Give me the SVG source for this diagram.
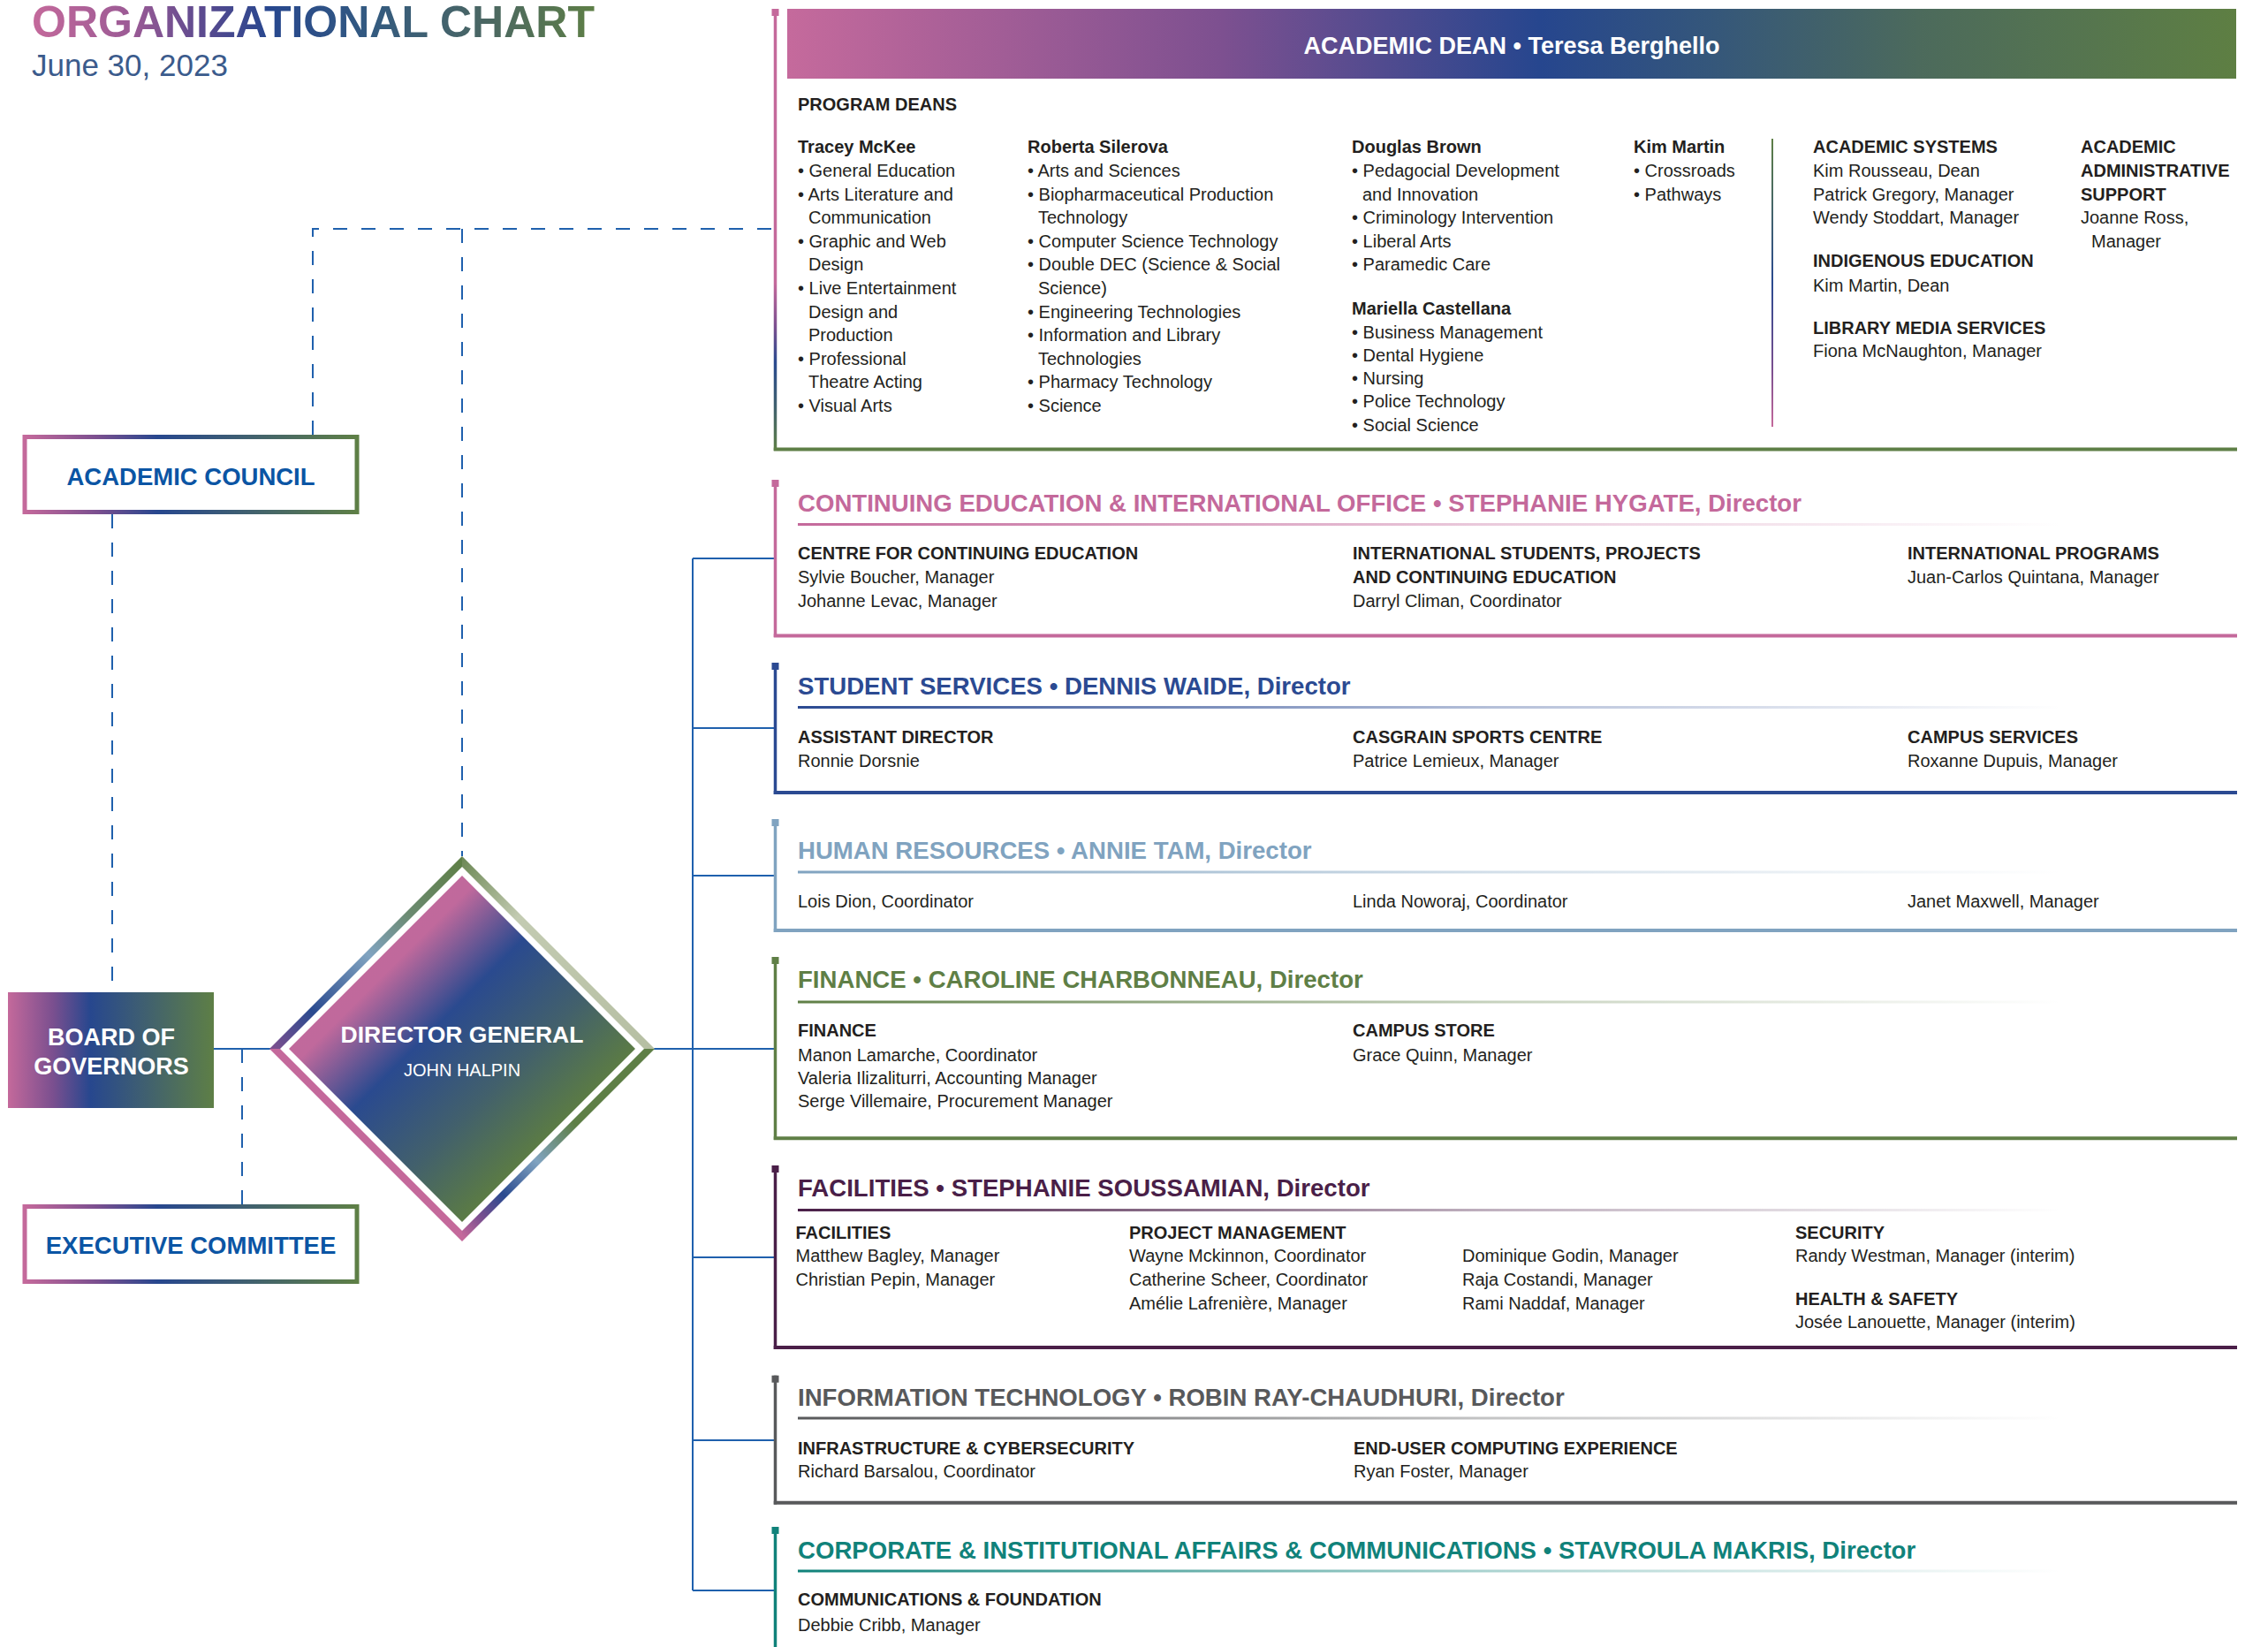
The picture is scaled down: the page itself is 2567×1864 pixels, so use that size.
<svg xmlns="http://www.w3.org/2000/svg" width="2567" height="1864" viewBox="0 0 2567 1864">
<defs>
<linearGradient id="gTitle" gradientUnits="userSpaceOnUse" x1="36" y1="0" x2="675" y2="0">
<stop offset="0" stop-color="#c4699b"/><stop offset="0.18" stop-color="#9a5a95"/><stop offset="0.3" stop-color="#5c4a8f"/><stop offset="0.42" stop-color="#27478e"/><stop offset="0.6" stop-color="#335a80"/><stop offset="0.8" stop-color="#4a6663"/><stop offset="1" stop-color="#5e7f46"/>
</linearGradient>
<linearGradient id="gH" x1="0" y1="0" x2="1" y2="0">
<stop offset="0" stop-color="#c56a9c"/><stop offset="0.3" stop-color="#7d5090"/><stop offset="0.52" stop-color="#26468e"/><stop offset="0.64" stop-color="#35577a"/><stop offset="0.78" stop-color="#4c6a5c"/><stop offset="1" stop-color="#5e7f43"/>
</linearGradient>
<linearGradient id="gBox" x1="0" y1="0" x2="1" y2="0">
<stop offset="0" stop-color="#c4699b"/><stop offset="0.22" stop-color="#7a4f8f"/><stop offset="0.4" stop-color="#27478e"/><stop offset="0.65" stop-color="#3e5e72"/><stop offset="1" stop-color="#5e7f46"/>
</linearGradient>
<linearGradient id="gAdLeft" x1="0" y1="0" x2="0" y2="1">
<stop offset="0" stop-color="#c4699b"/><stop offset="0.62" stop-color="#c4699b"/><stop offset="0.72" stop-color="#7a4f8f"/><stop offset="0.8" stop-color="#2a4a8f"/><stop offset="0.9" stop-color="#40606e"/><stop offset="1" stop-color="#5e7f46"/>
</linearGradient>
<linearGradient id="gSep" x1="0" y1="0" x2="0" y2="1">
<stop offset="0" stop-color="#5e7f46"/><stop offset="0.5" stop-color="#2a4a8f"/><stop offset="0.8" stop-color="#7a4f8f"/><stop offset="1" stop-color="#c4699b"/>
</linearGradient>
<linearGradient id="gDia" x1="0" y1="0" x2="1" y2="1">
<stop offset="0" stop-color="#c4699b"/><stop offset="0.28" stop-color="#c0699c"/><stop offset="0.43" stop-color="#2a4a8f"/><stop offset="0.6" stop-color="#42606c"/><stop offset="0.75" stop-color="#5b7b45"/><stop offset="1" stop-color="#5b7b45"/>
</linearGradient>
<linearGradient id="gEA" gradientUnits="userSpaceOnUse" x1="311" y1="1187" x2="523" y2="975">
<stop offset="0" stop-color="#7a4f8f"/><stop offset="0.2" stop-color="#2a4a8f"/><stop offset="0.5" stop-color="#80a3c0"/><stop offset="0.72" stop-color="#6b8a70"/><stop offset="1" stop-color="#5e7f46"/>
</linearGradient>
<linearGradient id="gEB" gradientUnits="userSpaceOnUse" x1="523" y1="975" x2="735" y2="1187">
<stop offset="0" stop-color="#6f8a58"/><stop offset="0.3" stop-color="#c3cbb2"/><stop offset="1" stop-color="#b6bfa3"/>
</linearGradient>
<linearGradient id="gEC" gradientUnits="userSpaceOnUse" x1="735" y1="1187" x2="523" y2="1399">
<stop offset="0" stop-color="#5e7f46"/><stop offset="0.4" stop-color="#5e7f46"/><stop offset="0.6" stop-color="#80a3c0"/><stop offset="0.78" stop-color="#2a4a8f"/><stop offset="0.9" stop-color="#7a4f8f"/><stop offset="1" stop-color="#c4699b"/>
</linearGradient>
<linearGradient id="uPink" x1="0" y1="0" x2="1" y2="0"><stop offset="0" stop-color="#c4699b"/><stop offset="0.55" stop-color="#c4699b" stop-opacity="0.35"/><stop offset="1" stop-color="#c4699b" stop-opacity="0"/></linearGradient>
<linearGradient id="uBlue" x1="0" y1="0" x2="1" y2="0"><stop offset="0" stop-color="#2b4a92"/><stop offset="0.55" stop-color="#2b4a92" stop-opacity="0.35"/><stop offset="1" stop-color="#2b4a92" stop-opacity="0"/></linearGradient>
<linearGradient id="uHr" x1="0" y1="0" x2="1" y2="0"><stop offset="0" stop-color="#80a3c0"/><stop offset="0.55" stop-color="#80a3c0" stop-opacity="0.35"/><stop offset="1" stop-color="#80a3c0" stop-opacity="0"/></linearGradient>
<linearGradient id="uFin" x1="0" y1="0" x2="1" y2="0"><stop offset="0" stop-color="#5f7f46"/><stop offset="0.55" stop-color="#5f7f46" stop-opacity="0.35"/><stop offset="1" stop-color="#5f7f46" stop-opacity="0"/></linearGradient>
<linearGradient id="uFac" x1="0" y1="0" x2="1" y2="0"><stop offset="0" stop-color="#4a1f48"/><stop offset="0.55" stop-color="#4a1f48" stop-opacity="0.35"/><stop offset="1" stop-color="#4a1f48" stop-opacity="0"/></linearGradient>
<linearGradient id="uIt" x1="0" y1="0" x2="1" y2="0"><stop offset="0" stop-color="#58595b"/><stop offset="0.55" stop-color="#58595b" stop-opacity="0.35"/><stop offset="1" stop-color="#58595b" stop-opacity="0"/></linearGradient>
<linearGradient id="uCorp" x1="0" y1="0" x2="1" y2="0"><stop offset="0" stop-color="#10827a"/><stop offset="0.55" stop-color="#10827a" stop-opacity="0.35"/><stop offset="1" stop-color="#10827a" stop-opacity="0"/></linearGradient>
</defs>
<style>
text{font-family:"Liberation Sans",Arial,sans-serif}
.b{font-size:20px;font-weight:700;fill:#231f20}
.t{font-size:20px;fill:#231f20}
.h{font-size:27.6px;font-weight:700}
.conn{fill:none;stroke:#1f60ad;stroke-width:2}
.dash{stroke-dasharray:16 16}
.boxt{font-size:27.5px;font-weight:700;fill:#0b55a4;text-anchor:middle}
.wt{fill:#ffffff;text-anchor:middle}
</style>
<rect x="0" y="0" width="2567" height="1864" fill="#ffffff"/>

<g id="title">
<text x="36" y="42" font-size="50" font-weight="700" fill="url(#gTitle)">ORGANIZATIONAL CHART</text>
<text x="36" y="86" font-size="35" fill="#3b5b8c">June 30, 2023</text>
</g>

<g id="connectors">
<polyline class="conn dash" points="354,492 354,259 877,259"/>
<line class="conn dash" x1="523" y1="259" x2="523" y2="969"/>
<line class="conn dash" x1="127" y1="582" x2="127" y2="1123"/>
<line class="conn dash" x1="274" y1="1187" x2="274" y2="1363"/>
<line class="conn" x1="242" y1="1187" x2="306" y2="1187"/>
<line class="conn" x1="740" y1="1187" x2="784" y2="1187"/>
<line class="conn" x1="784" y1="632" x2="784" y2="1800"/>
<line class="conn" x1="784" y1="632" x2="877" y2="632"/>
<line class="conn" x1="784" y1="824" x2="877" y2="824"/>
<line class="conn" x1="784" y1="991" x2="877" y2="991"/>
<line class="conn" x1="784" y1="1187" x2="877" y2="1187"/>
<line class="conn" x1="784" y1="1423" x2="877" y2="1423"/>
<line class="conn" x1="784" y1="1630" x2="877" y2="1630"/>
<line class="conn" x1="784" y1="1800" x2="877" y2="1800"/>
</g>

<g id="academic-council">
<rect x="28" y="494.5" width="376" height="85" fill="#ffffff" stroke="url(#gBox)" stroke-width="5"/>
<text class="boxt" x="216" y="549">ACADEMIC COUNCIL</text>
</g>

<g id="board-of-governors">
<rect x="9" y="1123" width="233" height="131" fill="url(#gBox)"/>
<text class="wt" x="126" y="1183" font-size="27" font-weight="700">BOARD OF</text>
<text class="wt" x="126" y="1216" font-size="27" font-weight="700">GOVERNORS</text>
</g>

<g id="executive-committee">
<rect x="28" y="1365.5" width="376" height="85" fill="#ffffff" stroke="url(#gBox)" stroke-width="5"/>
<text class="boxt" x="216" y="1419">EXECUTIVE COMMITTEE</text>
</g>

<g id="director-general">
<polygon points="305,1187 523,969 523,981 317,1187" fill="url(#gEA)"/>
<polygon points="523,969 741,1187 729,1187 523,981" fill="url(#gEB)"/>
<polygon points="741,1187 523,1405 523,1393 729,1187" fill="url(#gEC)"/>
<polygon points="523,1405 305,1187 317,1187 523,1393" fill="#c4699b"/>
<polygon points="327,1187 523,991 719,1187 523,1383" fill="url(#gDia)"/>
<text class="wt" x="523" y="1180" font-size="26.5" font-weight="700">DIRECTOR GENERAL</text>
<text class="wt" x="523" y="1218" font-size="20">JOHN HALPIN</text>
</g>

<g id="academic-dean">
<rect x="873.5" y="10" width="8" height="8" fill="#c4699b"/>
<rect x="875.75" y="10" width="3.5" height="500" fill="url(#gAdLeft)"/>
<line x1="875.75" y1="508.5" x2="2532" y2="508.5" stroke="#5e7f46" stroke-width="4"/>
<rect x="891" y="10" width="1640" height="79" fill="url(#gH)"/>
<text x="1711" y="61" font-size="27" font-weight="700" fill="#ffffff" text-anchor="middle">ACADEMIC DEAN • Teresa Berghello</text>
<text class="b" x="903" y="125">PROGRAM DEANS</text>
<g id="col-mckee">
<text class="b" x="903" y="173.3">Tracey McKee</text>
<text class="t" x="903" y="199.9">• General Education</text>
<text class="t" x="903" y="226.5">• Arts Literature and</text>
<text class="t" x="915" y="253.1">Communication</text>
<text class="t" x="903" y="279.7">• Graphic and Web</text>
<text class="t" x="915" y="306.3">Design</text>
<text class="t" x="903" y="332.9">• Live Entertainment</text>
<text class="t" x="915" y="359.5">Design and</text>
<text class="t" x="915" y="386.1">Production</text>
<text class="t" x="903" y="412.7">• Professional</text>
<text class="t" x="915" y="439.3">Theatre Acting</text>
<text class="t" x="903" y="465.9">• Visual Arts</text>
</g>
<g id="col-silerova">
<text class="b" x="1163" y="173.3">Roberta Silerova</text>
<text class="t" x="1163" y="199.9">• Arts and Sciences</text>
<text class="t" x="1163" y="226.5">• Biopharmaceutical Production</text>
<text class="t" x="1175" y="253.1">Technology</text>
<text class="t" x="1163" y="279.7">• Computer Science Technology</text>
<text class="t" x="1163" y="306.3">• Double DEC (Science &amp; Social</text>
<text class="t" x="1175" y="332.9">Science)</text>
<text class="t" x="1163" y="359.5">• Engineering Technologies</text>
<text class="t" x="1163" y="386.1">• Information and Library</text>
<text class="t" x="1175" y="412.7">Technologies</text>
<text class="t" x="1163" y="439.3">• Pharmacy Technology</text>
<text class="t" x="1163" y="465.9">• Science</text>
</g>
<g id="col-brown">
<text class="b" x="1530" y="173.3">Douglas Brown</text>
<text class="t" x="1530" y="199.9">• Pedagocial Development</text>
<text class="t" x="1542" y="226.5">and Innovation</text>
<text class="t" x="1530" y="253.1">• Criminology Intervention</text>
<text class="t" x="1530" y="279.7">• Liberal Arts</text>
<text class="t" x="1530" y="306.3">• Paramedic Care</text>
<text class="b" x="1530" y="356">Mariella Castellana</text>
<text class="t" x="1530" y="382.5">• Business Management</text>
<text class="t" x="1530" y="408.8">• Dental Hygiene</text>
<text class="t" x="1530" y="435">• Nursing</text>
<text class="t" x="1530" y="461.3">• Police Technology</text>
<text class="t" x="1530" y="487.5">• Social Science</text>
</g>
<g id="col-martin">
<text class="b" x="1849" y="173.3">Kim Martin</text>
<text class="t" x="1849" y="199.9">• Crossroads</text>
<text class="t" x="1849" y="226.5">• Pathways</text>
</g>
<rect x="2005" y="157" width="2" height="326" fill="url(#gSep)"/>
<g id="col-systems">
<text class="b" x="2052" y="173.3">ACADEMIC SYSTEMS</text>
<text class="t" x="2052" y="199.9">Kim Rousseau, Dean</text>
<text class="t" x="2052" y="226.5">Patrick Gregory, Manager</text>
<text class="t" x="2052" y="253.1">Wendy Stoddart, Manager</text>
<text class="b" x="2052" y="302">INDIGENOUS EDUCATION</text>
<text class="t" x="2052" y="329.5">Kim Martin, Dean</text>
<text class="b" x="2052" y="378">LIBRARY MEDIA SERVICES</text>
<text class="t" x="2052" y="403.5">Fiona McNaughton, Manager</text>
</g>
<g id="col-admin">
<text class="b" x="2355" y="173.3">ACADEMIC</text>
<text class="b" x="2355" y="199.9">ADMINISTRATIVE</text>
<text class="b" x="2355" y="226.5">SUPPORT</text>
<text class="t" x="2355" y="253.1">Joanne Ross,</text>
<text class="t" x="2367" y="279.7">Manager</text>
</g>
</g>

<g id="continuing-education">
<rect x="873.5" y="543" width="8" height="8" fill="#c4699b"/>
<rect x="875.75" y="543" width="3.5" height="178" fill="#c4699b"/>
<line x1="875.75" y1="719.5" x2="2532" y2="719.5" stroke="#c4699b" stroke-width="4"/>
<text class="h" x="903" y="579.3" fill="#c4699b">CONTINUING EDUCATION &amp; INTERNATIONAL OFFICE • STEPHANIE HYGATE, Director</text>
<rect x="903" y="592" width="1430" height="3" fill="url(#uPink)"/>
<text class="b" x="903" y="633.3">CENTRE FOR CONTINUING EDUCATION</text>
<text class="t" x="903" y="660">Sylvie Boucher, Manager</text>
<text class="t" x="903" y="686.7">Johanne Levac, Manager</text>
<text class="b" x="1531" y="633.3">INTERNATIONAL STUDENTS, PROJECTS</text>
<text class="b" x="1531" y="660">AND CONTINUING EDUCATION</text>
<text class="t" x="1531" y="686.7">Darryl Climan, Coordinator</text>
<text class="b" x="2159" y="633.3">INTERNATIONAL PROGRAMS</text>
<text class="t" x="2159" y="660">Juan-Carlos Quintana, Manager</text>
</g>

<g id="student-services">
<rect x="873.5" y="750" width="8" height="8" fill="#2b4a92"/>
<rect x="875.75" y="750" width="3.5" height="149" fill="#2b4a92"/>
<line x1="875.75" y1="897" x2="2532" y2="897" stroke="#2b4a92" stroke-width="4"/>
<text class="h" x="903" y="786" fill="#2b4a92">STUDENT SERVICES • DENNIS WAIDE, Director</text>
<rect x="903" y="799" width="1430" height="3" fill="url(#uBlue)"/>
<text class="b" x="903" y="840.7">ASSISTANT DIRECTOR</text>
<text class="t" x="903" y="868.3">Ronnie Dorsnie</text>
<text class="b" x="1531" y="840.7">CASGRAIN SPORTS CENTRE</text>
<text class="t" x="1531" y="868.3">Patrice Lemieux, Manager</text>
<text class="b" x="2159" y="840.7">CAMPUS SERVICES</text>
<text class="t" x="2159" y="868.3">Roxanne Dupuis, Manager</text>
</g>

<g id="human-resources">
<rect x="873.5" y="927" width="8" height="8" fill="#80a3c0"/>
<rect x="875.75" y="927" width="3.5" height="128" fill="#80a3c0"/>
<line x1="875.75" y1="1053" x2="2532" y2="1053" stroke="#80a3c0" stroke-width="4"/>
<text class="h" x="903" y="971.7" fill="#80a3c0">HUMAN RESOURCES • ANNIE TAM, Director</text>
<rect x="903" y="985.5" width="1430" height="3" fill="url(#uHr)"/>
<text class="t" x="903" y="1026.7">Lois Dion, Coordinator</text>
<text class="t" x="1531" y="1026.7">Linda Noworaj, Coordinator</text>
<text class="t" x="2159" y="1026.7">Janet Maxwell, Manager</text>
</g>

<g id="finance">
<rect x="873.5" y="1083" width="8" height="8" fill="#5f7f46"/>
<rect x="875.75" y="1083" width="3.5" height="207" fill="#5f7f46"/>
<line x1="875.75" y1="1288.3" x2="2532" y2="1288.3" stroke="#5f7f46" stroke-width="4"/>
<text class="h" x="903" y="1118.3" fill="#5f7f46">FINANCE • CAROLINE CHARBONNEAU, Director</text>
<rect x="903" y="1132.5" width="1430" height="3" fill="url(#uFin)"/>
<text class="b" x="903" y="1173.3">FINANCE</text>
<text class="t" x="903" y="1200.7">Manon Lamarche, Coordinator</text>
<text class="t" x="903" y="1227.3">Valeria Ilizaliturri, Accounting Manager</text>
<text class="t" x="903" y="1253.3">Serge Villemaire, Procurement Manager</text>
<text class="b" x="1531" y="1173.3">CAMPUS STORE</text>
<text class="t" x="1531" y="1200.7">Grace Quinn, Manager</text>
</g>

<g id="facilities">
<rect x="873.5" y="1319" width="8" height="8" fill="#4a1f48"/>
<rect x="875.75" y="1319" width="3.5" height="208" fill="#4a1f48"/>
<line x1="875.75" y1="1525" x2="2532" y2="1525" stroke="#4a1f48" stroke-width="4"/>
<text class="h" x="903" y="1354" fill="#4a1f48">FACILITIES • STEPHANIE SOUSSAMIAN, Director</text>
<rect x="903" y="1368" width="1430" height="3" fill="url(#uFac)"/>
<text class="b" x="900.5" y="1401.7">FACILITIES</text>
<text class="t" x="900.5" y="1428.3">Matthew Bagley, Manager</text>
<text class="t" x="900.5" y="1455">Christian Pepin, Manager</text>
<text class="b" x="1278" y="1401.7">PROJECT MANAGEMENT</text>
<text class="t" x="1278" y="1428.3">Wayne Mckinnon, Coordinator</text>
<text class="t" x="1278" y="1455">Catherine Scheer, Coordinator</text>
<text class="t" x="1278" y="1481.7">Amélie Lafrenière, Manager</text>
<text class="t" x="1655" y="1428.3">Dominique Godin, Manager</text>
<text class="t" x="1655" y="1455">Raja Costandi, Manager</text>
<text class="t" x="1655" y="1481.7">Rami Naddaf, Manager</text>
<text class="b" x="2032" y="1401.7">SECURITY</text>
<text class="t" x="2032" y="1428.3">Randy Westman, Manager (interim)</text>
<text class="b" x="2032" y="1476.7">HEALTH &amp; SAFETY</text>
<text class="t" x="2032" y="1503.3">Josée Lanouette, Manager (interim)</text>
</g>

<g id="information-technology">
<rect x="873.5" y="1556.7" width="8" height="8" fill="#58595b"/>
<rect x="875.75" y="1556.7" width="3.5" height="146" fill="#58595b"/>
<line x1="875.75" y1="1700.7" x2="2532" y2="1700.7" stroke="#58595b" stroke-width="4"/>
<text class="h" x="903" y="1590.7" fill="#58595b">INFORMATION TECHNOLOGY • ROBIN RAY-CHAUDHURI, Director</text>
<rect x="903" y="1603.5" width="1430" height="3" fill="url(#uIt)"/>
<text class="b" x="903" y="1645.7">INFRASTRUCTURE &amp; CYBERSECURITY</text>
<text class="t" x="903" y="1672.3">Richard Barsalou, Coordinator</text>
<text class="b" x="1532" y="1645.7">END-USER COMPUTING EXPERIENCE</text>
<text class="t" x="1532" y="1672.3">Ryan Foster, Manager</text>
</g>

<g id="corporate-affairs">
<rect x="873.5" y="1728" width="8" height="8" fill="#10827a"/>
<rect x="875.75" y="1728" width="3.5" height="136" fill="#10827a"/>
<text class="h" x="903" y="1764" fill="#10827a">CORPORATE &amp; INSTITUTIONAL AFFAIRS &amp; COMMUNICATIONS • STAVROULA MAKRIS, Director</text>
<rect x="903" y="1776.5" width="1430" height="3" fill="url(#uCorp)"/>
<text class="b" x="903" y="1817.3">COMMUNICATIONS &amp; FOUNDATION</text>
<text class="t" x="903" y="1845.7">Debbie Cribb, Manager</text>
</g>
</svg>
